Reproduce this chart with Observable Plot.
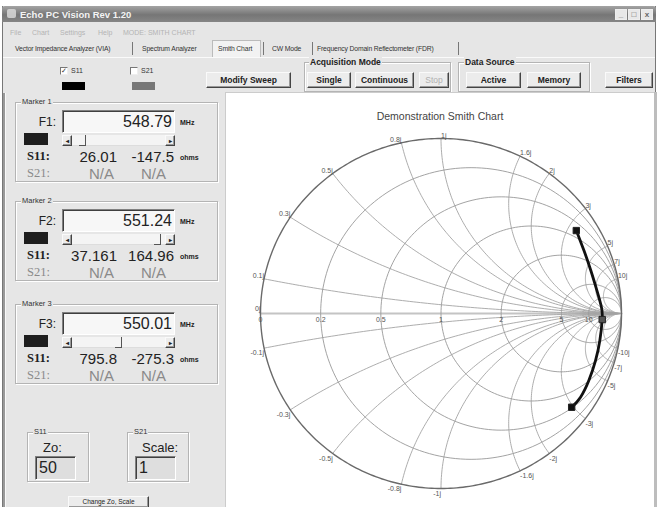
<!DOCTYPE html>
<html><head><meta charset="utf-8">
<script src="https://cdn.jsdelivr.net/npm/d3@7"></script>
<script src="https://cdn.jsdelivr.net/npm/@observablehq/plot@0.6"></script>
<style>
body{margin:0;width:658px;height:507px;overflow:hidden;background:#fff;font-family:"Liberation Sans",Arial,sans-serif;position:relative;color:#222}
.a{position:absolute;white-space:nowrap}
.btn{position:absolute;background:#ececec;border:1px solid;border-color:#fafafa #444 #444 #fafafa;box-shadow:inset -1px -1px 0 #999;font-weight:bold;font-size:8.5px;text-align:center;color:#222;box-sizing:border-box}
.grp{position:absolute;border:1px solid #b4b4b4;box-shadow:inset 1px 1px 0 #fff,1px 1px 0 #fff;box-sizing:border-box}
.glab{position:absolute;font-size:7.5px;background:#e6e6e6;padding:0 1px;color:#333}
.sunk{position:absolute;border:1px solid;border-color:#808080 #fff #fff #808080;box-shadow:inset 1px 1px 0 #404040;box-sizing:border-box}
.ser{font-family:"Liberation Serif","Times New Roman",serif;font-weight:bold}
</style></head><body>
<div id="root"></div>
<script>
// ---------------- data ----------------
const markerLabels = ["Marker 1", "Marker 2", "Marker 3"];
const markerFreqMHz = ["548.79", "551.24", "550.01"];
const markerR = [26.01, 37.161, 795.8];          // ohms
const markerX = [-147.5, 164.96, -275.3];        // ohms
const markerRText = ["26.01", "37.161", "795.8"];
const markerXText = ["-147.5", "164.96", "-275.3"];
const markerThumb = [0.08, 0.95, 0.5];
const z0 = 50;
const scaleS21 = 1;
const resistanceTicks = [0, 0.2, 0.5, 1, 2, 5, 10];
const reactanceTicks = [0.1, 0.3, 0.5, 0.8, 1, 1.6, 2, 3, 5, 7, 10];
// S11 trace (reflection coefficient, re / im), 548.79 -> 551.24 MHz
const traceRe = [0.724, 0.773, 0.819, 0.856, 0.880, 0.893, 0.889, 0.864, 0.830, 0.792, 0.750];
const traceIm = [-0.536, -0.478, -0.383, -0.269, -0.154, -0.035, 0.036, 0.131, 0.246, 0.360, 0.474];
const tabs = ["Vector Impedance Analyzer (VIA)", "Spectrum Analyzer", "Smith Chart", "CW Mode", "Frequency Domain Reflectometer (FDR)"];
const menus = ["File", "Chart", "Settings", "Help", "MODE: SMITH CHART"];

// ---------------- UI chrome ----------------
const root = document.getElementById("root");
function el(html){ root.insertAdjacentHTML("beforeend", html); }
function box(l,t,w,h,style,cls="a",txt=""){ el(`<div class="${cls}" style="left:${l}px;top:${t}px;width:${w}px;height:${h}px;${style}">${txt}</div>`); }

// window background
box(2,6,654,501,"background:#e6e6e6;border-left:1px solid #777;border-right:1px solid #777;box-sizing:border-box");
// title bar
box(2,6,654,16,"background:linear-gradient(#a4a4a4,#767676 55%,#858585);border-radius:3px 3px 0 0");
box(7,9,9,9,"background:#ddd;border-radius:2px;opacity:.8");
el(`<div class="a" style="left:20px;top:8px;font-size:9.5px;font-weight:bold;color:#f4f4f4;line-height:13px">Echo PC Vision Rev 1.20</div>`);
[615,628,641].forEach((x,i)=>{ box(x,9,12,11,"background:#e8e8e8;border:1px solid #eee;box-sizing:border-box;font-size:8px;line-height:9px;text-align:center;color:#666;font-weight:bold","a",["_","□","x"][i]); });
// menu bar
const menuX = [10, 32, 60, 98, 123];
menus.forEach((m,i)=> el(`<div class="a" style="left:${menuX[i]}px;top:28px;font-size:7px;color:#b4b4b4;line-height:10px">${m}</div>`));
// tabs
const tabX = [15, 142, 218, 272, 317];
const sepX = [132, 263, 312, 458];
box(212,40,49,18,"background:#f2f2f2;border:1px solid #bbb;border-bottom:none;box-sizing:border-box");
tabs.forEach((t,i)=> el(`<div class="a" style="left:${tabX[i]}px;top:44px;font-size:6.8px;color:#333;line-height:10px;letter-spacing:-0.15px">${t}</div>`));
sepX.forEach(x=> box(x,42,1,13,"background:#777"));
box(3,57,652,1,"background:#fafafa");
// checkboxes & swatches
[[60,"S11",true,"#000"],[130,"S21",false,"#777"]].forEach(([x,lab,chk,col])=>{
  box(x,67,8,8,"background:#fff;border:1px solid;border-color:#777 #eee #eee #777;box-sizing:border-box;font-size:7px;line-height:6px;text-align:center;color:#333","a",chk?"✓":"");
  el(`<div class="a" style="left:${x+11}px;top:66px;font-size:7px;line-height:10px;color:#333">${lab}</div>`);
  box(x+2,82,23,8,`background:${col}`);
});
// buttons
function btn(l,t,w,h,txt,dis){ el(`<div class="btn" style="left:${l}px;top:${t}px;width:${w}px;height:${h}px;line-height:${h-2}px;${dis?"color:#b0b0b0;font-weight:normal":""}">${txt}</div>`); }
btn(206,72,85,16,"Modify Sweep");
// acquisition mode group
el(`<div class="grp" style="left:304px;top:62px;width:147px;height:30px"></div>`);
el(`<div class="a" style="left:309px;top:57px;font-size:8.5px;font-weight:bold;background:#e6e6e6;padding:0 1px;line-height:10px">Acquisition Mode</div>`);
btn(307,72,44,16,"Single"); btn(355,72,59,16,"Continuous"); btn(419,72,30,16,"Stop",true);
el(`<div class="grp" style="left:458px;top:62px;width:132px;height:30px"></div>`);
el(`<div class="a" style="left:464px;top:57px;font-size:8.5px;font-weight:bold;background:#e6e6e6;padding:0 1px;line-height:10px">Data Source</div>`);
btn(466,72,55,16,"Active"); btn(527,72,54,16,"Memory");
btn(605,72,48,16,"Filters");
// left panel edge
box(3,93,2,414,"background:#999");
box(5,93,1,414,"background:#f8f8f8");

// marker groups
const markerTop = [102, 201, 304];
markerLabels.forEach((lab,i)=>{
  const T = markerTop[i];
  el(`<div class="grp" style="left:15px;top:${T}px;width:203px;height:${80}px"></div>`);
  el(`<div class="glab" style="left:21px;top:${T-5}px;line-height:10px">${lab}</div>`);
  el(`<div class="a" style="left:30px;width:26px;text-align:right;top:${T+13}px;font-size:12px;line-height:14px">F${i+1}:</div>`);
  el(`<div class="sunk" style="left:62px;top:${T+8}px;width:113px;height:23px;background:#f7f7f7"></div>`);
  el(`<div class="a" style="left:62px;width:110px;text-align:right;top:${T+11}px;font-size:16px;line-height:18px">${markerFreqMHz[i]}</div>`);
  el(`<div class="a" style="left:180px;top:${T+16}px;font-size:7px;font-weight:bold;line-height:9px">MHz</div>`);
  box(24,T+31,24,12,"background:#1e1e1e");
  // scrollbar
  box(62,T+33,113,11,"background:#f4f4f4;border-bottom:1px solid #ddd;box-sizing:border-box");
  btn(62,T+33,10,11,"<span style='font-size:6px'>◂</span>");
  btn(165,T+33,10,11,"<span style='font-size:6px'>▸</span>");
  const tx = 72 + markerThumb[i]*(165-72-7);
  box(tx,T+33,7,11,"border-right:1px solid #555;border-bottom:1px solid #555;box-sizing:border-box");
  // S11 row
  el(`<div class="a ser" style="left:27px;top:${T+47}px;font-size:12.5px;line-height:14px">S11:</div>`);
  el(`<div class="a" style="left:60px;width:57px;text-align:right;top:${T+46}px;font-size:15px;line-height:17px">${markerRText[i]}</div>`);
  el(`<div class="a" style="left:120px;width:54px;text-align:right;top:${T+46}px;font-size:15px;line-height:17px">${markerXText[i]}</div>`);
  el(`<div class="a" style="left:180px;top:${T+51}px;font-size:7px;font-weight:bold;line-height:9px">ohms</div>`);
  // S21 row
  el(`<div class="a" style="left:27px;top:${T+64}px;font-size:12.5px;line-height:14px;font-family:'Liberation Serif',serif;color:#8a8a8a">S21:</div>`);
  el(`<div class="a" style="left:60px;width:54px;text-align:right;top:${T+63}px;font-size:15px;line-height:17px;color:#8a8a8a">N/A</div>`);
  el(`<div class="a" style="left:120px;width:46px;text-align:right;top:${T+63}px;font-size:15px;line-height:17px;color:#8a8a8a">N/A</div>`);
});
// Zo / Scale groups
[[27,"S11","Zo:",z0,43],[127,"S21","Scale:",scaleS21,142]].forEach(([x,g,lab,v,lx])=>{
  el(`<div class="grp" style="left:${x}px;top:432px;width:62px;height:50px"></div>`);
  el(`<div class="glab" style="left:${x+6}px;top:427px;line-height:10px">${g}</div>`);
  el(`<div class="a" style="left:${lx}px;top:440px;font-size:13px;line-height:15px">${lab}</div>`);
  el(`<div class="sunk" style="left:${x+8}px;top:456px;width:41px;height:24px;background:#dedede"></div>`);
  el(`<div class="a" style="left:${x+12}px;top:459px;font-size:16px;line-height:18px">${v}</div>`);
});
el(`<div class="btn" style="left:68px;top:496px;width:81px;height:12px;font-weight:normal;font-size:6.5px;line-height:10px">Change Zo, Scale</div>`);

// ---------------- chart ----------------
const W = 428, H = 414, PX = 226, PY = 93;
box(PX-1,PY-1,W+1,H+1,"background:#fff;border-top:1px solid #ccc;border-left:1px solid #ccc");
box(PX+W,PY-1,3,H+1,"background:#bdbdbd");

function gamma(r, x){ const den = (r+1)*(r+1) + x*x; return [(r*r + x*x - 1)/den, 2*x/den]; }

const rCircles = [];
resistanceTicks.filter(r=>r>0).forEach(r=>{
  const c = r/(1+r), rad = 1/(1+r);
  d3.range(0, 181).forEach(k=>{ const p = 2*Math.PI*k/180; rCircles.push({x:c+rad*Math.cos(p), y:rad*Math.sin(p), id:"r"+r}); });
});
const outer = d3.range(0, 361).map(k=>({x:Math.cos(2*Math.PI*k/360), y:Math.sin(2*Math.PI*k/360)}));
const xArcs = [];
const signed = reactanceTicks.flatMap(x=>[x,-x]);
signed.forEach(x=>{
  const cy = 1/x, rad = 1/Math.abs(x);
  const [px,py] = gamma(0,x);
  const p0 = Math.atan2(py-cy, px-1), p1 = Math.atan2(-cy, 0);
  let d = p1 - p0; while (d > Math.PI) d -= 2*Math.PI; while (d <= -Math.PI) d += 2*Math.PI;
  d3.range(0, 101).forEach(k=>{ const p = p0 + d*k/100; xArcs.push({x:1+rad*Math.cos(p), y:cy+rad*Math.sin(p), id:"x"+x}); });
});
const axisLine = [-1, 1].map(v=>({x:v, y:0}));
const rLabels = resistanceTicks.map(r=>({x:gamma(r,0)[0], y:0, t:String(r)}));
const xLab = signed.map(x=>{ const [gx,gy]=gamma(0,x); return {x:gx, y:gy, v:x, t:x+"j"}; });
const TL = xLab.filter(d=>d.v>0 && d.v<1), TR = xLab.filter(d=>d.v>=1);
const BL = xLab.filter(d=>d.v<0 && d.v>=-1), BR = xLab.filter(d=>d.v<-1);
const zeroLab = [{x:gamma(0,0)[0], y:0, t:"0j"}];
const trace = traceRe.map((re,i)=>({x:re, y:traceIm[i]}));
const markers = markerR.map((r,i)=>{ const [gx,gy] = gamma(r/z0, markerX[i]/z0); return {x:gx, y:gy, i}; });

const lab = {fontSize:7, fill:"#555", fontFamily:"Liberation Sans, Arial"};
const chart = Plot.plot({
  width: W, height: H,
  marginLeft: 34, marginRight: 33, marginTop: 45, marginBottom: 19,
  x: {domain:[-1,1], axis:null},
  y: {domain:[-1,1], axis:null},
  style: {background:"transparent", fontFamily:"Liberation Sans, Arial", overflow:"visible"},
  marks: [
    Plot.line(axisLine, {x:"x", y:"y", stroke:"#c4c4c4", strokeWidth:2.2}),
    Plot.line(xArcs, {x:"x", y:"y", z:"id", stroke:"#a4a4a4", strokeWidth:0.9}),
    Plot.line(rCircles, {x:"x", y:"y", z:"id", stroke:"#999", strokeWidth:0.9}),
    Plot.line(outer, {x:"x", y:"y", stroke:"#6a6a6a", strokeWidth:1.4}),
    Plot.text(rLabels, {x:"x", y:"y", text:"t", dy:6, ...lab}),
    Plot.text(zeroLab, {x:"x", y:"y", text:"t", dy:-5, textAnchor:"end", ...lab}),
    Plot.text(TL, {x:"x", y:"y", text:"t", dy:-3, textAnchor:"end", ...lab}),
    Plot.text(TR, {x:"x", y:"y", text:"t", dy:-3, textAnchor:"start", ...lab}),
    Plot.text(BL, {x:"x", y:"y", text:"t", dy:5, textAnchor:"end", ...lab}),
    Plot.text(BR, {x:"x", y:"y", text:"t", dy:5, textAnchor:"start", ...lab}),
    Plot.line(trace, {x:"x", y:"y", stroke:"#111", strokeWidth:2.8, curve:"natural"}),
    Plot.dot(markers, {x:"x", y:"y", symbol:"square", r:3.6, fill:d=>d.i===2?"#555":"#111", stroke:"#222", strokeWidth:1})
  ]
});
chart.style.position = "absolute"; chart.style.left = PX+"px"; chart.style.top = PY+"px";
root.appendChild(chart);
el(`<div class="a" style="left:${PX}px;width:${W}px;text-align:center;top:110px;font-size:10.5px;color:#444;line-height:13px">Demonstration Smith Chart</div>`);
</script>
</body></html>
